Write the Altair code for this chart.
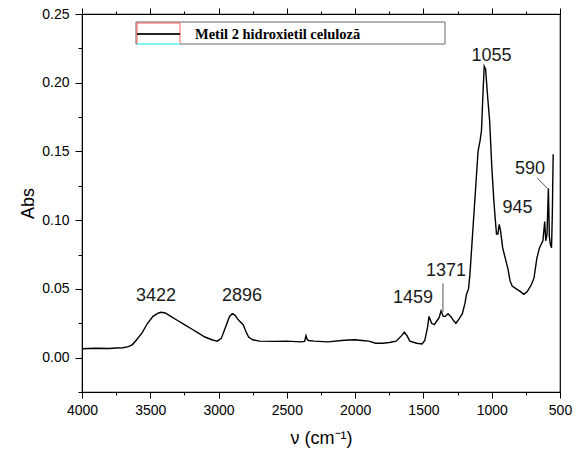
import altair as alt
import pandas as pd

# Spectrum (wavenumber cm-1, absorbance)
wn = [4000, 3900, 3800, 3750, 3700, 3660, 3630, 3600, 3560, 3520, 3480, 3440, 3420,
      3390, 3350, 3300, 3250, 3200, 3150, 3100, 3050, 3010, 2980, 2950, 2920, 2900,
      2880, 2860, 2840, 2820, 2800, 2780, 2750, 2700, 2600, 2500, 2400, 2370, 2360,
      2350, 2340, 2300, 2200, 2100, 2050, 2000, 1950, 1900, 1850, 1800, 1750, 1700,
      1660, 1640, 1620, 1600, 1550, 1510, 1490, 1470, 1459, 1440, 1420, 1400, 1385,
      1371, 1355, 1340, 1320, 1300, 1280, 1262, 1240, 1215, 1195, 1185, 1170, 1160,
      1140, 1120, 1100, 1085, 1075, 1065, 1055, 1045, 1030, 1015, 1000, 985, 975,
      965, 955, 945, 935, 920, 900, 880, 866, 850, 820, 790, 764, 740, 710, 690,
      670, 650, 630, 625, 612, 604, 595, 585, 578, 570, 562, 556, 550]
ab = [0.0065, 0.0068, 0.0066, 0.0070, 0.0072, 0.0080, 0.0095, 0.013, 0.018, 0.025, 0.030, 0.0325, 0.033,
      0.0325, 0.030, 0.027, 0.024, 0.021, 0.018, 0.015, 0.013, 0.012, 0.014, 0.022, 0.030, 0.032,
      0.031, 0.028, 0.026, 0.024, 0.019, 0.015, 0.013, 0.012, 0.0118, 0.012, 0.0115, 0.0118, 0.016,
      0.013, 0.0125, 0.012, 0.0115, 0.0125, 0.0128, 0.013, 0.0125, 0.012, 0.0105, 0.0105, 0.011, 0.012,
      0.016, 0.0185, 0.016, 0.012, 0.0105, 0.010, 0.0125, 0.022, 0.030, 0.025, 0.024, 0.027, 0.029,
      0.034, 0.030, 0.030, 0.032, 0.030, 0.027, 0.025, 0.028, 0.032, 0.040, 0.046, 0.050, 0.060,
      0.090, 0.120, 0.150, 0.158, 0.165, 0.190, 0.212, 0.210, 0.190, 0.172, 0.140, 0.115, 0.102,
      0.090, 0.090, 0.097, 0.092, 0.080, 0.072, 0.064, 0.056, 0.052, 0.050, 0.048, 0.046, 0.048, 0.053, 0.058,
      0.072, 0.080, 0.084, 0.085, 0.099, 0.085, 0.090, 0.123, 0.088, 0.082, 0.080, 0.105, 0.148]

# Peak labels
lab_text = ["3422", "2896", "1459", "1371", "1055", "945", "590"]
lab_x = [3458, 2828, 1577, 1335, 1002, 811, 720]
lab_y = [0.0446, 0.0446, 0.0435, 0.0629, 0.2197, 0.1086, 0.137]

# Leader lines
lead_x = [1357, 668]
lead_y = [0.054, 0.1308]
lead_x2 = [1357, 588]
lead_y2 = [0.033, 0.1228]

legend_label = "Metil 2 hidroxietil celuloză"

spec = pd.DataFrame({"wn": wn, "abs": ab})
labels = pd.DataFrame({"x": lab_x, "y": lab_y, "t": lab_text})
leads = pd.DataFrame({"x": lead_x, "y": lead_y, "x2": lead_x2, "y2": lead_y2})
one = pd.DataFrame({"k": [0]})

FONT = "Liberation Sans"
xdom = [4000, 500]
ydom = [-0.025, 0.25]
xvals = list(range(4000, 499, -250))
yvals = [round(-0.025 + 0.025 * i, 3) for i in range(12)]

xscale = alt.Scale(domain=xdom, nice=False, zero=False)
yscale = alt.Scale(domain=ydom, nice=False, zero=False)

x_tick_size = {"condition": {"test": "datum.value % 500 === 0", "value": 6}, "value": 3}
y_tick_size = {"condition": {"test": "round(datum.value * 1000) % 50 === 0", "value": 7}, "value": 4}

x_bottom = alt.Axis(values=xvals, orient="bottom", title="ν (cm⁻¹)", grid=False,
                    labelExpr="datum.value % 500 === 0 ? datum.label : ''",
                    format="d", tickSize=x_tick_size, labelPadding=5, titlePadding=12,
                    labelFont=FONT, labelFontSize=14, titleFont=FONT, titleFontSize=18,
                    titleFontWeight="normal", labelColor="black", titleColor="black",
                    domainColor="black", tickColor="black", labelFlush=False,
                    labelOverlap=False)
y_left = alt.Axis(values=yvals, orient="left", title="Abs", grid=False, format=".2f",
                  labelExpr="round(datum.value * 1000) % 50 === 0 ? datum.label : ''",
                  tickSize=y_tick_size, labelPadding=6, titlePadding=4,
                  labelFont=FONT, labelFontSize=14, titleFont=FONT, titleFontSize=18,
                  titleFontWeight="normal", labelColor="black", titleColor="black",
                  domainColor="black", tickColor="black", labelFlush=False,
                  labelOverlap=False)
x_top = alt.Axis(values=xvals, orient="top", title=None, labels=False, grid=False,
                 tickSize=x_tick_size, domainColor="black", tickColor="black")

line = alt.Chart(spec).mark_line(color="black", strokeWidth=1.4).encode(
    x=alt.X("wn:Q", scale=xscale, axis=x_bottom),
    y=alt.Y("abs:Q", scale=yscale, axis=y_left),
    order=alt.Order("idx:Q"),
).transform_window(idx="row_number()")

text = alt.Chart(labels).mark_text(font=FONT, fontSize=18, color="#1a1a1a",
                                   baseline="middle", align="center").encode(
    x=alt.X("x:Q", scale=xscale, axis=x_top),
    y=alt.Y("y:Q", scale=yscale, axis=None),
    text="t:N",
)

rules = alt.Chart(leads).mark_rule(color="#555555", strokeWidth=1).encode(
    x=alt.X("x:Q", scale=xscale, axis=None),
    y=alt.Y("y:Q", scale=yscale, axis=None),
    x2="x2:Q",
    y2="y2:Q",
)

# Legend box (drawn as chrome in pixel space)
leg_box = alt.Chart(one).mark_rect(fill="white", stroke="#666666", strokeWidth=1).encode(
    x=alt.value(54), x2=alt.value(363), y=alt.value(8), y2=alt.value(30))
leg_red = alt.Chart(one).mark_rect(fill="white", stroke="#ff5a5a", strokeWidth=1).encode(
    x=alt.value(55), x2=alt.value(98), y=alt.value(9), y2=alt.value(30))
leg_cyan = alt.Chart(one).mark_rule(color="#7ff5f5", strokeWidth=2).encode(
    x=alt.value(55), x2=alt.value(98), y=alt.value(30), y2=alt.value(30))
leg_line = alt.Chart(one).mark_rule(color="#222222", strokeWidth=2).encode(
    x=alt.value(55), x2=alt.value(98), y=alt.value(20), y2=alt.value(20))
leg_text = alt.Chart(one).mark_text(font="Liberation Serif", fontWeight="bold", fontSize=14.5,
                                    color="black", align="left", baseline="middle").encode(
    x=alt.value(113), y=alt.value(21), text=alt.value(legend_label))

chart = alt.layer(line, text, rules, leg_box, leg_red, leg_cyan, leg_line, leg_text).resolve_axis(
    x="independent", y="independent"
).properties(
    width=478, height=378,
    autosize=alt.AutoSizeParams(type="none"),
    padding={"left": 82, "top": 14, "right": 14, "bottom": 65},
    background="white",
).configure_view(stroke="black", strokeWidth=1.2)

chart.save("out.html", embed_options={"renderer": "svg", "actions": False})
